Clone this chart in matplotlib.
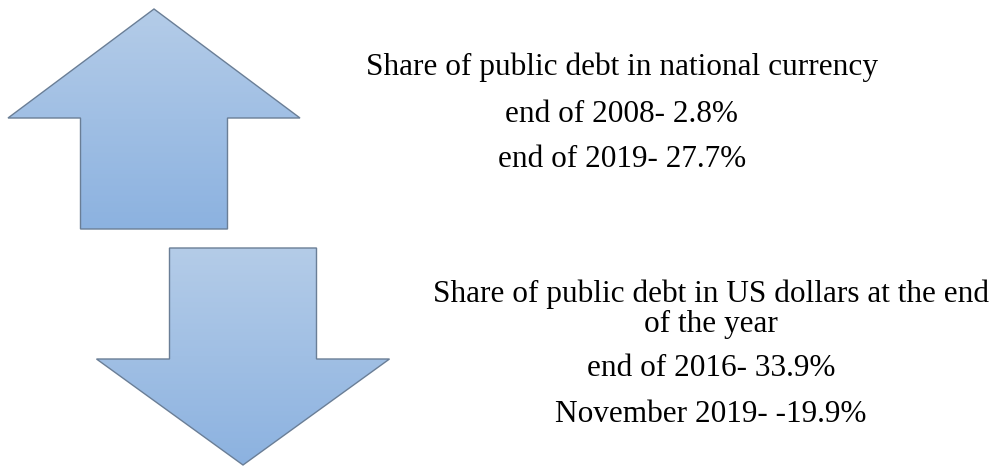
import numpy as np
import matplotlib
matplotlib.use("Agg")
import matplotlib.pyplot as plt
from matplotlib.patches import Polygon

# arrows: tip x, tip y, head base y, head half width, shaft half width, tail y
up_arrow = dict(tip=(154, 9), head_y=118, head_hw=146, shaft_hw=73.5, tail_y=229)
down_arrow = dict(tip=(243, 465), head_y=359, head_hw=146.5, shaft_hw=73.5, tail_y=248)

block1_lines = ["Share of public debt in national currency",
                "end of 2008- 2.8%",
                "end of 2019- 27.7%"]
block1_baselines = [75, 122, 167]
block1_x = 622

block2_lines = ["Share of public debt in US dollars at the end",
                "of the year",
                "end of 2016- 33.9%",
                "November 2019- -19.9%"]
block2_baselines = [302, 332, 376, 422]
block2_x = 711

col_top = "#b4cce8"
col_bot = "#8cb2e0"
edge_col = "#6a7e96"

W, H = 998, 467
fig = plt.figure(figsize=(W / 100, H / 100), dpi=100)
ax = fig.add_axes([0, 0, 1, 1])
ax.set_xlim(0, W)
ax.set_ylim(H, 0)
ax.axis("off")


def arrow_poly(a):
    tx, ty = a["tip"]
    hy, hw, sw, tl = a["head_y"], a["head_hw"], a["shaft_hw"], a["tail_y"]
    return np.array([[tx, ty], [tx + hw, hy], [tx + sw, hy], [tx + sw, tl],
                     [tx - sw, tl], [tx - sw, hy], [tx - hw, hy]])


def draw_arrow(a):
    pts = arrow_poly(a)
    x0, x1 = pts[:, 0].min(), pts[:, 0].max()
    y0, y1 = pts[:, 1].min(), pts[:, 1].max()
    c0 = np.array(matplotlib.colors.to_rgb(col_top))
    c1 = np.array(matplotlib.colors.to_rgb(col_bot))
    t = np.linspace(0, 1, 256)[:, None]
    grad = (c0 * (1 - t) + c1 * t)[:, None, :]
    im = ax.imshow(grad, extent=(x0, x1, y1, y0), aspect="auto", zorder=1)
    poly = Polygon(pts, closed=True, facecolor="none", edgecolor=edge_col,
                   lw=1.0, zorder=2)
    ax.add_patch(poly)
    im.set_clip_path(poly)


draw_arrow(up_arrow)
draw_arrow(down_arrow)
ax.set_xlim(0, W)
ax.set_ylim(H, 0)

font = dict(family="Liberation Serif", size=22.5, color="black",
            ha="center", va="baseline")
for s, y in zip(block1_lines, block1_baselines):
    ax.text(block1_x, y, s, **font)
for s, y in zip(block2_lines, block2_baselines):
    ax.text(block2_x, y, s, **font)

fig.savefig("out.png", dpi=100, facecolor="white")
